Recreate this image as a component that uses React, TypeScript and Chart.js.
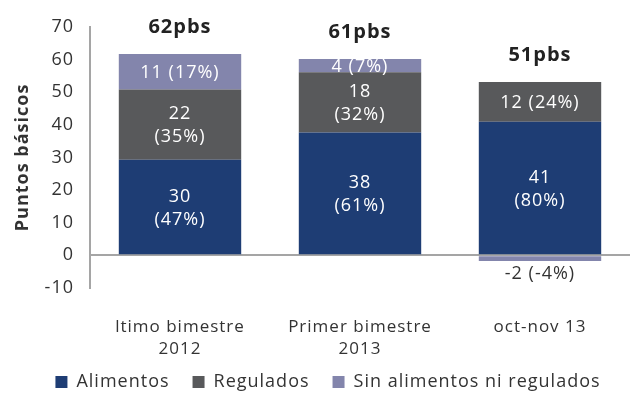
import React, { useEffect, useRef } from 'react';
import { Chart, registerables } from 'chart.js';

Chart.register(...registerables);

const categories: string[][] = [['ltimo bimestre', '2012'], ['Primer bimestre', '2013'], ['oct-nov 13']];
const seriesNames = ['Alimentos', 'Regulados', 'Sin alimentos ni regulados'];
const alimentos = [29.3, 37.6, 40.9];
const regulados = [21.5, 18.5, 12.2];
const sinAlimentos = [10.9, 4.0, -1.7];
const alimentosLabels = [['30', '(47%)'], ['38', '(61%)'], ['41', '(80%)']];
const reguladosLabels = [['22', '(35%)'], ['18', '(32%)'], ['12 (24%)']];
const sinLabels = [['11 (17%)'], ['4 (7%)'], ['-2 (-4%)']];
const totalLabels = ['62pbs', '61pbs', '51pbs'];
const yMin = -10;
const yMax = 70;
const yStep = 10;
const yTitle = 'Puntos básicos';

const colors = ['#1e3d74', '#58595b', '#8385ac'];
const FONT = '"Open Sans", sans-serif';

const spacingPlugin = {
  id: 'spacing',
  beforeUpdate(chart: any) {
    chart.ctx.letterSpacing = '1px';
  },
  beforeDraw(chart: any) {
    chart.ctx.letterSpacing = '1px';
  },
};

const legendPlacePlugin = {
  id: 'legendPlace',
  beforeInit(chart: any) {
    const orig = chart.legend.fit;
    chart.legend.fit = function () {
      orig.bind(this)();
      this.height = 30;
    };
  },
  afterLayout(chart: any) {
    const lg = chart.legend;
    lg.top -= 16;
    lg.height += 16;
    lg.left += 26;
    lg.width -= 26;
  },
};

const segLabels = [alimentosLabels, reguladosLabels, sinLabels];

const labelPlugin = {
  id: 'segLabels',
  afterDatasetsDraw(chart: any) {
    const ctx = chart.ctx;
    ctx.save();
    ctx.letterSpacing = '1px';
    ctx.font = `18px ${FONT}`;
    ctx.textAlign = 'center';
    ctx.textBaseline = 'middle';
    const lh = 23;
    chart.data.datasets.forEach((ds: any, di: number) => {
      const meta = chart.getDatasetMeta(di);
      meta.data.forEach((el: any, i: number) => {
        const lines = segLabels[di][i];
        const v = ds.data[i];
        let cy: number;
        if (v < 0) {
          cy = el.y + 13 + ((lines.length - 1) * lh) / 2;
          ctx.fillStyle = '#333333';
        } else {
          cy = (el.y + el.base) / 2 + 1;
          ctx.fillStyle = '#ffffff';
        }
        lines.forEach((t: string, k: number) => {
          ctx.fillText(t, el.x, cy + (k - (lines.length - 1) / 2) * lh);
        });
      });
    });
    ctx.font = `bold 20px ${FONT}`;
    ctx.fillStyle = '#222222';
    const ys = chart.scales.y;
    const meta0 = chart.getDatasetMeta(0);
    totalLabels.forEach((t, i) => {
      let sum = 0;
      chart.data.datasets.forEach((ds: any) => {
        const v = ds.data[i];
        if (v > 0) sum += v;
      });
      ctx.fillText(t, meta0.data[i].x, ys.getPixelForValue(sum) - 27);
    });
    ctx.restore();
  },
};

export default function App() {
  const ref = useRef<HTMLCanvasElement>(null);
  useEffect(() => {
    if (!ref.current) return;
    const chart = new Chart(ref.current, {
      type: 'bar',
      data: {
        labels: categories,
        datasets: [alimentos, regulados, sinAlimentos].map((d, i) => ({
          label: seriesNames[i],
          data: d,
          backgroundColor: colors[i],
          borderWidth: 0,
          barPercentage: 0.68,
          categoryPercentage: 1,
        })),
      },
      options: {
        animation: false,
        responsive: false,
        layout: { padding: { top: 19, left: 0, right: 0, bottom: 0 } },
        plugins: {
          legend: {
            position: 'bottom',
            labels: {
              boxWidth: 12,
              boxHeight: 12,
              padding: 23,
              color: '#333333',
              font: { family: FONT, size: 18 },
            },
          },
          tooltip: { enabled: false },
        },
        scales: {
          x: {
            stacked: true,
            grid: { display: false },
            border: { display: false },
            ticks: {
              color: '#333333',
              padding: 20,
              font: { family: FONT, size: 17, lineHeight: 1.3 },
              maxRotation: 0,
            },
            afterFit(scale: any) {
              scale.height = 78;
            },
          },
          y: {
            stacked: true,
            min: yMin,
            max: yMax,
            grid: {
              drawTicks: false,
              color: (c: any) => (c.tick && c.tick.value === 0 ? '#a5a5a5' : 'rgba(0,0,0,0)'),
              lineWidth: 2,
            },
            border: { display: true, color: '#a5a5a5', width: 2 },
            ticks: {
              stepSize: yStep,
              color: '#333333',
              padding: 16,
              font: { family: FONT, size: 18 },
            },
            title: {
              display: true,
              text: yTitle,
              color: '#333333',
              font: { family: FONT, size: 18, weight: 'bold' },
              padding: { top: 12, bottom: 0 },
            },
            afterFit(scale: any) {
              scale.width = 90;
            },
          },
        },
      },
      plugins: [spacingPlugin, legendPlacePlugin, labelPlugin],
    } as any);
    return () => chart.destroy();
  }, []);
  return (
    <div style={{ position: 'absolute', left: 0, top: 0, width: 630, height: 396 }}>
      <canvas ref={ref} width={630} height={396} />
    </div>
  );
}
